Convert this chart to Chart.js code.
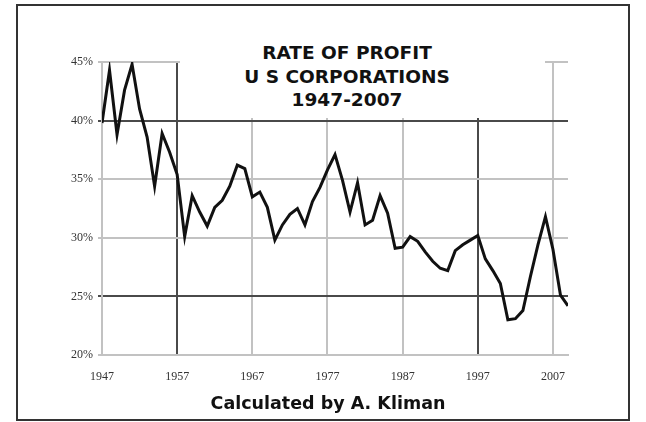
<!DOCTYPE html>
<html><head><meta charset="utf-8">
<script src="https://cdn.jsdelivr.net/npm/chart.js@4"></script>
<style>
html,body{margin:0;padding:0;background:#fff;}
#wrap{position:relative;width:646px;height:422px;overflow:hidden;}
#frame{position:absolute;left:16px;top:4px;width:610px;height:413px;border:2px solid #333;}
canvas{position:absolute;left:0;top:0;}
#tbox{position:absolute;left:180px;top:36px;width:365px;height:82px;background:#fff;}
#title{position:absolute;left:197px;top:41px;width:300px;text-align:center;font-family:"DejaVu Sans";font-weight:bold;font-size:18px;line-height:23.5px;color:#111;white-space:nowrap;transform:scaleX(1.03);}
#cap{position:absolute;left:178px;top:392px;width:300px;text-align:center;font-family:"DejaVu Sans";font-weight:bold;font-size:17.5px;line-height:22px;color:#111;white-space:nowrap;}
</style></head>
<body><div id="wrap">
<div id="frame"></div>
<canvas id="c" width="646" height="422"></canvas>
<div id="tbox"></div>
<div id="title">RATE OF PROFIT<br>U S CORPORATIONS<br>1947-2007</div>
<div id="cap">Calculated by A. Kliman</div>
</div>
<script>
const years = [1947,1948,1949,1950,1951,1952,1953,1954,1955,1956,1957,1958,1959,1960,1961,1962,1963,1964,1965,1966,1967,1968,1969,1970,1971,1972,1973,1974,1975,1976,1977,1978,1979,1980,1981,1982,1983,1984,1985,1986,1987,1988,1989,1990,1991,1992,1993,1994,1995,1996,1997,1998,1999,2000,2001,2002,2003,2004,2005,2006,2007,2008,2009];
const rateOfProfit = [39.8,44.3,38.8,42.6,44.8,41.0,38.6,34.4,38.9,37.3,35.4,30.1,33.6,32.2,31.0,32.6,33.2,34.4,36.2,35.9,33.5,33.9,32.6,29.8,31.1,32.0,32.5,31.1,33.1,34.3,35.8,37.1,34.9,32.2,34.7,31.1,31.5,33.6,32.1,29.1,29.2,30.1,29.7,28.8,28.0,27.4,27.2,28.9,29.4,29.8,30.2,28.2,27.2,26.1,23.0,23.1,23.8,26.7,29.4,31.8,29.0,25.1,24.2];
const xTickYears = [1947,1957,1967,1977,1987,1997,2007];
const yTicks = [20,25,30,35,40,45];
const darkX = [1957,1997];
const darkY = [25,40];

const light = '#c2c2c2', dark = '#4a4a4a';
new Chart(document.getElementById('c'), {
  type: 'line',
  data: { datasets: [{
    data: years.map((y,i)=>({x:y, y:rateOfProfit[i]})),
    borderColor: '#111', borderWidth: 3, pointRadius: 0, tension: 0, fill: false
  }]},
  options: {
    responsive: false, animation: false,
    layout: { padding: { left: 62, right: 78, top: 62, bottom: 0 } },
    plugins: { legend: {display:false}, tooltip: {enabled:false}, title:{display:false} },
    scales: {
      x: {
        type: 'linear', min: 1947, max: 2009,
        afterBuildTicks: s => { s.ticks = xTickYears.map(v=>({value:v})); },
        afterFit: s => { s.height = 67; },
        ticks: { autoSkip:false, maxRotation:0, padding: 15, color:'#333',
          font:{family:'Liberation Serif', size:12}, callback: v => String(v) },
        grid: { lineWidth: 2, tickLength: 0,
          color: c => (c.tick && darkX.includes(c.tick.value)) ? dark : light },
        border: { color: light, width: 2 }
      },
      y: {
        min: 20, max: 45,
        afterBuildTicks: s => { s.ticks = yTicks.map(v=>({value:v})); },
        afterFit: s => { s.width = 40; },
        ticks: { padding: 5, color:'#333', font:{family:'Liberation Serif', size:12},
          callback: v => v + '%' },
        grid: { lineWidth: 2, tickLength: 4,
          color: c => (c.tick && darkY.includes(c.tick.value)) ? dark : light },
        border: { color: light, width: 2 }
      }
    }
  }
});
</script>
</body></html>
